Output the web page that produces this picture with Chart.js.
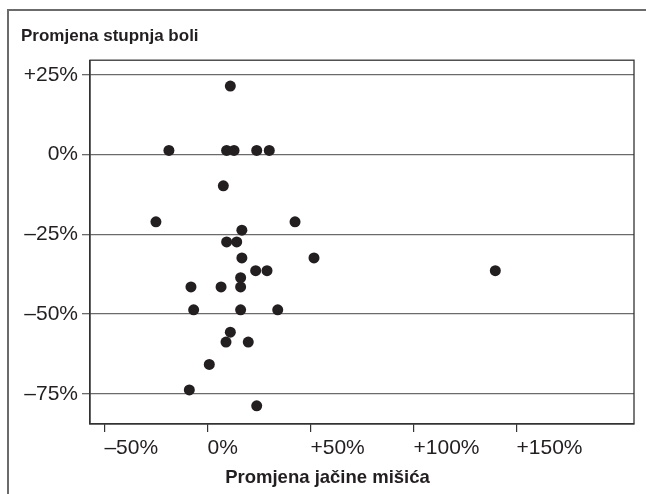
<!DOCTYPE html>
<html>
<head>
<meta charset="utf-8">
<script src="https://cdn.jsdelivr.net/npm/chart.js@4"></script>
<style>
  html, body { margin: 0; padding: 0; background: #fff; }
  #wrap { position: relative; width: 646px; height: 494px; overflow: hidden; }
  #deco { position: absolute; left: 7px; top: 9px; width: 700px; height: 600px;
          border-top: 2px solid #6b6b6b; border-left: 2px solid #6b6b6b; }
  canvas { position: absolute; left: 0; top: 0; }
</style>
</head>
<body>
<div id="wrap">
  <div id="deco"></div>
  <canvas id="c" width="646" height="494"></canvas>
</div>
<script>
// Data (percent change)
const strengthChange = [11.1, -18.7, 9.3, 12.9, 23.9, 30.0, 7.7, -25.0, 42.5, 16.7,
  9.3, 14.2, 16.7, 51.7, 23.4, 28.9, 139.7, 16.1, -8.0, 6.6,
  16.1, -6.7, 16.1, 34.1, 11.1, 9.0, 19.8, 0.9, -8.8, 23.9];
const painChange = [21.5, 1.3, 1.3, 1.3, 1.3, 1.3, -9.8, -21.1, -21.1, -23.7,
  -27.4, -27.4, -32.4, -32.4, -36.4, -36.4, -36.4, -38.6, -41.5, -41.5,
  -41.5, -48.7, -48.7, -48.7, -55.7, -58.8, -58.8, -65.8, -73.8, -78.8];

const xTickValues = [-50, 0, 50, 100, 150];
const xTickLabels = ['\u201350%', '0%', '+50%', '+100%', '+150%'];
const yTickValues = [25, 0, -25, -50, -75];
const yTickLabels = ['+25%', '0%', '\u201325%', '\u201350%', '\u201375%'];

const yTitle = 'Promjena stupnja boli';
const xTitle = 'Promjena jačine mišića';

const textColor = '#231f20';
const padL = 21, padR = 12;

const points = strengthChange.map((x, i) => ({ x: x, y: painChange[i] }));

const frame = {
  id: 'frame',
  afterDatasetsDraw(chart) {
    const a = chart.chartArea, ctx = chart.ctx;
    ctx.save();
    ctx.strokeStyle = '#333';
    ctx.lineWidth = 1.3;
    ctx.strokeRect(a.left, a.top, a.right - a.left, a.bottom - a.top);
    ctx.restore();
  }
};

new Chart(document.getElementById('c'), {
  type: 'scatter',
  data: {
    datasets: [{
      data: points,
      backgroundColor: textColor,
      borderWidth: 0,
      pointRadius: 5.5,
      pointHoverRadius: 5.5
    }]
  },
  plugins: [frame],
  options: {
    responsive: false,
    devicePixelRatio: 1,
    animation: false,
    layout: { padding: { left: padL, right: padR, top: 0, bottom: 0 } },
    plugins: {
      legend: { display: false },
      tooltip: { enabled: false },
      subtitle: {
        display: true, text: yTitle, align: 'start', position: 'top',
        color: textColor,
        font: { family: 'Liberation Sans', size: 17, weight: 'bold', lineHeight: 1.2 },
        padding: { top: 26.5, bottom: 13.3 }
      },
      title: {
        display: true, text: xTitle, align: 'center', position: 'bottom',
        color: textColor,
        font: { family: 'Liberation Sans', size: 18.5, weight: 'bold', lineHeight: 1.2 },
        padding: { top: 4.5, bottom: 5.3 }
      }
    },
    scales: {
      x: {
        type: 'linear', min: -57, max: 207,
        afterBuildTicks: s => { s.ticks = xTickValues.map(v => ({ value: v })); },
        afterFit: s => { s.height = 38; },
        grid: { drawOnChartArea: false, drawTicks: true, tickLength: 8, color: '#333', lineWidth: 1.2 },
        border: { display: true, color: '#333', width: 1.3 },
        ticks: {
          align: 'start', padding: 4, color: textColor,
          font: { family: 'Liberation Sans', size: 21 },
          callback: v => xTickLabels[xTickValues.indexOf(v)]
        }
      },
      y: {
        type: 'linear', min: -84.5, max: 29.6,
        afterBuildTicks: s => { s.ticks = yTickValues.map(v => ({ value: v })); },
        afterFit: s => { s.width = 90 - padL; },
        grid: { drawOnChartArea: true, drawTicks: true, tickLength: 8, color: '#6b6b6b', lineWidth: 1.3 },
        border: { display: true, color: '#333', width: 1.3 },
        ticks: {
          padding: 4, color: textColor,
          font: { family: 'Liberation Sans', size: 21 },
          callback: v => yTickLabels[yTickValues.indexOf(v)]
        }
      }
    }
  }
});
</script>
</body>
</html>
